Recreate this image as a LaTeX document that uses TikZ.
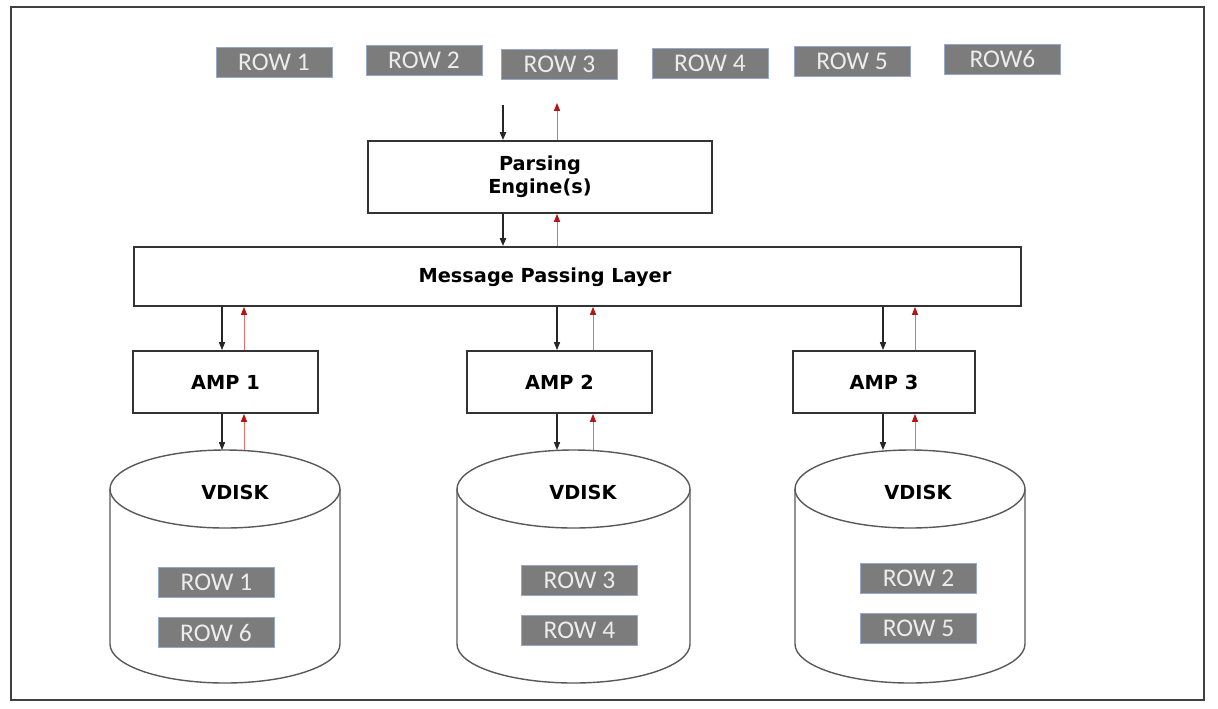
\documentclass[tikz,border=0pt]{standalone}
\usepackage{fontspec}
\setmainfont{DejaVu Sans}
\newfontfamily\rowfont{Carlito}
\usetikzlibrary{arrows.meta}
\definecolor{rowgray}{RGB}{124,124,124}
\definecolor{rowedge}{RGB}{150,170,200}
\definecolor{rowtext}{RGB}{236,236,236}
\definecolor{askred}{RGB}{225,110,110}
\definecolor{tipred}{RGB}{180,20,20}
\tikzset{
  rowbox/.style={fill=rowgray, draw=rowedge, line width=0.4pt, minimum width=2.32cm, minimum height=0.6cm, inner sep=0pt, text=rowtext, font=\rowfont\fontsize{14.5}{16}\selectfont},
  block/.style={draw=black!80, line width=1.1pt, fill=white, inner sep=0pt, font=\bfseries\fontsize{11}{13}\selectfont, align=center},
  boldtext/.style={font=\bfseries\fontsize{11}{13}\selectfont},
  ask/.style={draw=black!85, line width=0.6pt, -{Triangle[width=3.5pt,length=4.5pt]}},
  answer/.style={draw=askred, line width=0.5pt, -{Triangle[width=3.5pt,length=4.5pt,color=tipred]}},
  disk/.style={draw=black!65, line width=0.8pt, fill=white}
}
\begin{document}
\begin{tikzpicture}[x=0.02cm, y=-0.02cm]
% Fix the page size and draw the frame
\useasboundingbox (0,0) rectangle (1218,708);
\draw[black!75, line width=1.2pt] (11,7) rectangle (1204,700);

% Draw the incoming rows
\node[rowbox] (in1) at (274,62) {ROW 1};
\node[rowbox] (in2) at (424,60.5) {ROW 2};
\node[rowbox] (in3) at (559.5,64.5) {ROW 3};
\node[rowbox] (in4) at (710,63) {ROW 4};
\node[rowbox] (in5) at (852,61) {ROW 5};
\node[rowbox] (in6) at (1002.5,59) {ROW6};

% Draw the parsing engine and the message layer
\node[block, minimum width=6.88cm, minimum height=1.44cm] (pe) at (540,177) {Parsing\\Engine(s)};
\node[block, minimum width=17.74cm, minimum height=1.18cm] (mpl) at (577.5,276.5) {};
\node[boldtext] (mpltext) at (545,277) {Message Passing Layer};

% Draw the AMPs
\node[block, minimum width=3.7cm, minimum height=1.24cm] (amp1) at (225.5,382) {AMP 1};
\node[block, minimum width=3.7cm, minimum height=1.24cm] (amp2) at (559.5,382) {AMP 2};
\node[block, minimum width=3.64cm, minimum height=1.24cm] (amp3) at (884,382) {AMP 3};

% Draw the vdisks
\draw[disk] (110,489) -- (110,644) arc[start angle=180, end angle=0, x radius=115, y radius=39] -- (340,489);
\draw[disk] (225,489) ellipse[x radius=115, y radius=39];
\coordinate (disk1) at (225,450);
\node[boldtext] (vd1) at (235,492) {VDISK};

\draw[disk] (457,489) -- (457,644) arc[start angle=180, end angle=0, x radius=116.5, y radius=39] -- (690,489);
\draw[disk] (573.5,489) ellipse[x radius=116.5, y radius=39];
\coordinate (disk2) at (573.5,450);
\node[boldtext] (vd2) at (583,492) {VDISK};

\draw[disk] (795,489) -- (795,644) arc[start angle=180, end angle=0, x radius=115, y radius=39] -- (1025,489);
\draw[disk] (910,489) ellipse[x radius=115, y radius=39];
\coordinate (disk3) at (910,450);
\node[boldtext] (vd3) at (918,492) {VDISK};

% Draw the stored rows
\node[rowbox] (d1r1) at (216.5,582.5) {ROW 1};
\node[rowbox] (d1r6) at (216,632.5) {ROW 6};
\node[rowbox] (d2r3) at (579.5,580.5) {ROW 3};
\node[rowbox] (d2r4) at (579.5,630.5) {ROW 4};
\node[rowbox] (d3r2) at (918.5,578.5) {ROW 2};
\node[rowbox] (d3r5) at (918.5,628.5) {ROW 5};

% Draw the arrows through the parsing engine
\coordinate (pedown) at (503,105);
\coordinate (peup) at (557,103);
\draw[ask, line width=1pt] (pedown) -- (pedown |- pe.north);
\draw[answer] (peup |- pe.north) -- (peup);
\draw[ask, line width=1pt] (pedown |- pe.south) -- (pedown |- mpl.north);
\draw[answer] (peup |- mpl.north) -- (peup |- pe.south);

% Draw the arrows to the AMPs and vdisks
\coordinate (down1) at (222,0);
\coordinate (up1) at (244,0);
\coordinate (down2) at (557,0);
\coordinate (up2) at (593,0);
\coordinate (down3) at (883,0);
\coordinate (up3) at (915,0);
\draw[ask] (down1 |- mpl.south) -- (down1 |- amp1.north);
\draw[answer] (up1 |- amp1.north) -- (up1 |- mpl.south);
\draw[ask] (down1 |- amp1.south) -- (down1 |- disk1);
\draw[answer] (up1 |- disk1) -- (up1 |- amp1.south);
\draw[ask] (down2 |- mpl.south) -- (down2 |- amp2.north);
\draw[answer] (up2 |- amp2.north) -- (up2 |- mpl.south);
\draw[ask] (down2 |- amp2.south) -- (down2 |- disk2);
\draw[answer] (up2 |- disk2) -- (up2 |- amp2.south);
\draw[ask] (down3 |- mpl.south) -- (down3 |- amp3.north);
\draw[answer] (up3 |- amp3.north) -- (up3 |- mpl.south);
\draw[ask] (down3 |- amp3.south) -- (down3 |- disk3);
\draw[answer] (up3 |- disk3) -- (up3 |- amp3.south);
\end{tikzpicture}
\end{document}
